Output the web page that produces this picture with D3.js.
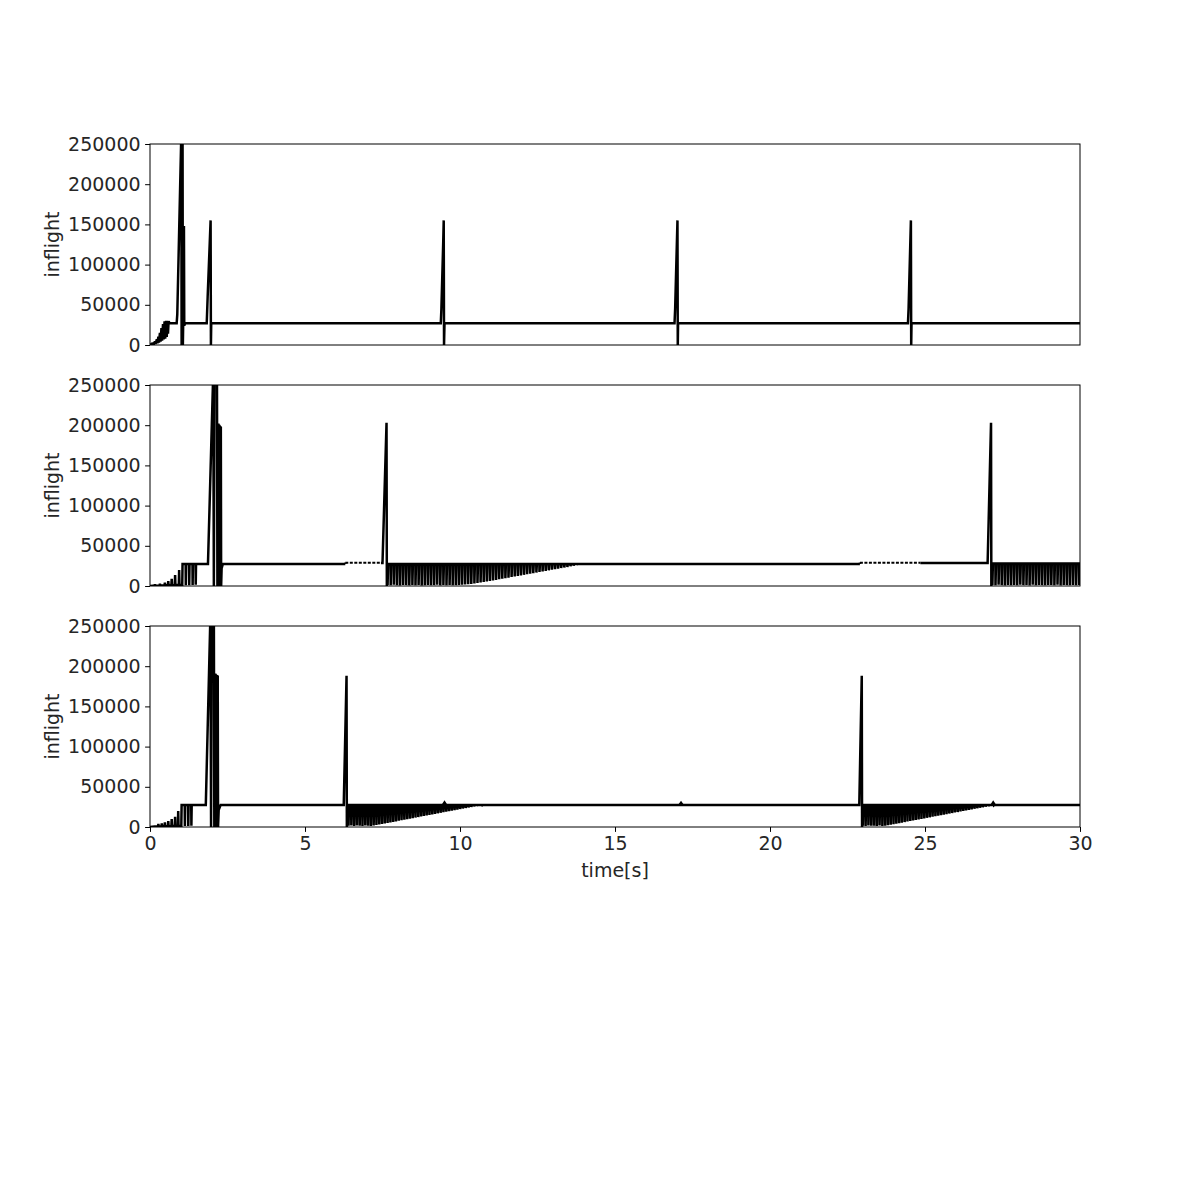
<!DOCTYPE html>
<html><head><meta charset="utf-8">
<script src="https://cdn.jsdelivr.net/npm/d3@7"></script>
<style>body{margin:0;background:#fff}svg{display:block}text{font-family:"DejaVu Sans",sans-serif}</style>
</head><body>
<script>
// ---------------- DATA ----------------
const X_TICKS = [0, 5, 10, 15, 20, 25, 30];
const Y_TICKS = [0, 50000, 100000, 150000, 200000, 250000];
const Y_LABEL = "inflight";
const X_LABEL = "time[s]";

// Panel 1 (time s, inflight)
const p1Main = [[0,0],[0.04,1200],[0.06,200],[0.1,2500],[0.12,600],[0.16,4500],[0.18,1200],[0.22,7000],[0.24,2000],[0.27,10500],[0.29,3000],[0.32,15000],[0.34,4000],[0.37,21000],[0.39,5500],[0.42,26000],[0.44,7000],[0.47,29500],[0.49,8000],[0.52,30000],[0.54,10000],[0.56,30000],[0.58,14000],[0.6,29500],[0.64,27000],[0.86,27000],[0.88,38000],[1.01,262000],[1.02,0],[1.04,0],[1.05,262000],[1.06,0],[1.07,26000],[1.095,148000],[1.105,24000],[1.13,27000],[1.83,27000],[1.86,60000],[1.955,155000],[1.965,0],[1.975,27000],[9.38,27000],[9.40,45000],[9.46,130000],[9.475,155000],[9.485,0],[9.5,27000],[16.92,27000],[16.94,45000],[17.015,155000],[17.025,0],[17.035,27000],[24.45,27000],[24.47,45000],[24.545,155000],[24.555,0],[24.565,27000],[30,27000]];

// Panel 2
const p2Start = [[0,0],[0.1,300],[0.15,400],[0.16,2200],[0.17,400],[0.31,600],[0.32,3000],[0.33,600],[0.47,800],[0.48,4200],[0.49,800],[0.58,900],[0.59,6000],[0.6,900],[0.69,1000],[0.7,9000],[0.71,1000],[0.8,1100],[0.81,13500],[0.82,1100],[0.93,1200],[0.94,20000],[0.95,1200],[1.04,1300],[1.05,27500],[1.15,27500],[1.155,1000],[1.165,27500],[1.26,27500],[1.265,1000],[1.275,27500],[1.37,27500],[1.375,1200],[1.385,27500],[1.47,27500],[1.475,1500],[1.485,27500],[1.87,27500],[2.04,265000],[2.06,0],[2.08,265000],[2.16,265000],[2.175,0],[2.185,202000],[2.195,0],[2.205,202000],[2.215,0],[2.225,201000],[2.235,0],[2.245,200000],[2.255,0],[2.265,199000],[2.275,0],[2.285,198000],[2.295,0],[2.31,22000],[2.35,27500],[6.3,27500]];
const p2DotA = [[6.3,29000],[7.45,29000]];
const p2Mid = [[7.45,28500],[7.5,28500],[7.63,203000],[7.64,0]];
const p2TeethA_t = [7.66,7.76,7.86,7.96,8.06,8.16,8.26,8.36,8.46,8.56,8.66,8.76,8.86,8.96,9.06,9.16,9.26,9.36,9.46,9.56,9.66,9.76,9.86,9.96,10.06,10.16,10.26,10.36,10.46,10.56,10.66,10.76,10.86,10.96,11.06,11.16,11.26,11.36,11.46,11.56,11.66,11.76,11.86,11.96,12.06,12.16,12.26,12.36,12.46,12.56,12.66,12.76,12.86,12.96,13.06,13.16,13.26,13.36,13.46,13.56,13.66,13.76];
const p2TeethA_min = [1200,900,1500,1000,600,1300,1100,800,1400,900,1200,700,1000,1300,900,1100,1500,800,1200,1000,1400,900,1100,1300,1600,1800,2100,2600,3200,3800,4400,5000,5700,6300,7000,7600,8300,9000,9700,10400,11100,11800,12500,13200,13900,14600,15300,16000,16700,17400,18100,18800,19500,20200,20900,21600,22300,23000,23700,24500,25400,26400];
const p2Flat = [[13.8,27500],[22.9,27500]];
const p2DotB = [[22.9,29000],[24.85,29000]];
const p2End = [[24.85,28500],[27.02,28500],[27.13,203000],[27.14,0]];
const p2TeethB_t = [27.17,27.27,27.37,27.47,27.57,27.67,27.77,27.87,27.97,28.07,28.17,28.27,28.37,28.47,28.57,28.67,28.77,28.87,28.97,29.07,29.17,29.27,29.37,29.47,29.57,29.67,29.77,29.87,29.97];
const p2TeethB_min = [1200,900,1500,1100,800,1400,1000,1300,900,1600,1100,1200,800,1500,1000,1300,1100,900,1400,1200,1000,1500,800,1300,1100,1000,1400,900,1200];

// Panel 3
const p3Start = [[0,0],[0.15,500],[0.26,700],[0.27,3700],[0.28,700],[0.37,800],[0.38,4600],[0.39,800],[0.47,900],[0.48,5800],[0.49,900],[0.58,1000],[0.59,7500],[0.6,1000],[0.69,1100],[0.7,10000],[0.71,1100],[0.8,1200],[0.81,12800],[0.82,1200],[0.9,1300],[0.91,19900],[0.92,1300],[1.01,1400],[1.02,27500],[1.12,27500],[1.125,1200],[1.135,27500],[1.23,27500],[1.235,1300],[1.245,27500],[1.33,27500],[1.335,1500],[1.345,27500],[1.8,27500],[1.95,265000],[1.97,0],[1.99,265000],[2.06,265000],[2.075,0],[2.085,190000],[2.095,0],[2.105,191000],[2.115,0],[2.125,190000],[2.135,0],[2.145,189000],[2.155,0],[2.165,189000],[2.175,0],[2.185,188000],[2.195,0],[2.215,21000],[2.28,27500],[6.25,27500],[6.34,188000],[6.35,0]];
const p3TeethA_t = [6.40,6.49,6.58,6.67,6.76,6.85,6.94,7.03,7.12,7.21,7.30,7.39,7.48,7.57,7.66,7.75,7.84,7.93,8.02,8.11,8.20,8.29,8.38,8.47,8.56,8.65,8.74,8.83,8.92,9.01,9.10,9.19,9.28,9.37,9.46,9.55,9.64,9.73,9.82,9.91,10.00,10.09,10.18,10.27,10.36,10.45,10.54,10.63,10.72];
const p3TeethA_min = [1500,1800,1200,2000,1600,1400,1900,1700,1300,1800,2400,3000,3700,4300,5000,5700,6300,7000,7700,8300,9000,9700,10300,11000,11700,12300,13000,13700,14300,15000,15600,16300,17000,17600,18300,19000,19600,20300,21000,21600,22300,23000,23600,24300,25000,25600,26200,26700,27100];
const p3Mid = [[10.8,27500],[22.88,27500],[22.96,188000],[22.97,0]];
const p3TeethB_t = [22.99,23.08,23.17,23.26,23.35,23.44,23.53,23.62,23.71,23.80,23.89,23.98,24.07,24.16,24.25,24.34,24.43,24.52,24.61,24.70,24.79,24.88,24.97,25.06,25.15,25.24,25.33,25.42,25.51,25.60,25.69,25.78,25.87,25.96,26.05,26.14,26.23,26.32,26.41,26.50,26.59,26.68,26.77,26.86,26.95,27.04,27.13,27.22];
const p3TeethB_min = [1600,1300,1900,1500,1700,1200,1800,1400,1600,2200,2800,3500,4100,4800,5400,6100,6800,7400,8100,8700,9400,10100,10700,11400,12000,12700,13400,14000,14700,15300,16000,16700,17300,18000,18600,19300,20000,20600,21300,21900,22600,23300,23900,24600,25200,25900,26500,27000];
const p3End = [[27.3,27500],[30,27500]];
const p3Bumps = [[9.5,30500],[17.13,30000],[27.2,30500]];

const LEVEL = 27500;

// ---------------- CHART ----------------
const W = 1200, H = 1200;
const left = 150, plotW = 930, plotH = 201;
const tops = [144, 385, 626];
const FS = 19;
const TICK = 4.9;
const svg = d3.select("body").append("svg").attr("width", W).attr("height", H);

const x = d3.scaleLinear().domain([0, 30]).range([left, left + plotW]);

function teeth(ts, mins, level) {
  const out = [];
  ts.forEach((t, i) => { out.push([t, level], [t + 0.004, mins[i]], [t + 0.02, level]); });
  return out;
}

const panels = [
  { solid: [p1Main], dotted: [], bumps: [] },
  { solid: [p2Start,
            [p2Start[p2Start.length-1], [6.3,29000]],
            p2Mid.concat(teeth(p2TeethA_t, p2TeethA_min, LEVEL), p2Flat),
            [[22.9,27500],[22.9,29000]],
            p2End.concat(teeth(p2TeethB_t, p2TeethB_min, 28000), [[30,28000]])],
    dotted: [p2DotA, p2DotB], bumps: [] },
  { solid: [p3Start.concat(teeth(p3TeethA_t, p3TeethA_min, LEVEL), p3Mid, teeth(p3TeethB_t, p3TeethB_min, LEVEL), p3End)],
    dotted: [], bumps: p3Bumps }
];

panels.forEach((p, k) => {
  const top = tops[k];
  const y = d3.scaleLinear().domain([0, 250000]).range([top + plotH, top]);
  const g = svg.append("g");
  const cid = "clip" + k;
  svg.append("clipPath").attr("id", cid).append("rect")
    .attr("x", left).attr("y", top).attr("width", plotW).attr("height", plotH);
  const line = d3.line().x(d => x(d[0])).y(d => y(d[1]));
  const dg = g.append("g").attr("clip-path", `url(#${cid})`);
  p.solid.forEach(s => dg.append("path").attr("d", line(s)).attr("fill", "none")
    .attr("stroke", "#000").attr("stroke-width", 2.5).attr("stroke-linejoin", "miter").attr("stroke-miterlimit", 2));
  p.dotted.forEach(s => dg.append("path").attr("d", line(s)).attr("fill", "none")
    .attr("stroke", "#000").attr("stroke-width", 2).attr("stroke-dasharray", "3,1.5"));
  p.bumps.forEach(b => dg.append("path").attr("d", line([[b[0]-0.05, LEVEL],[b[0], b[1]],[b[0]+0.05, LEVEL]]))
    .attr("fill", "none").attr("stroke", "#000").attr("stroke-width", 2.5));

  // frame
  g.append("rect").attr("x", left).attr("y", top).attr("width", plotW).attr("height", plotH)
    .attr("fill", "none").attr("stroke", "#000").attr("stroke-width", 1);

  const ya = g.append("g").attr("transform", `translate(${left},0)`)
    .call(d3.axisLeft(y).tickValues(Y_TICKS).tickSize(TICK).tickPadding(4.5).tickFormat(d3.format("d")));
  ya.select(".domain").remove();
  ya.selectAll("text").attr("font-size", FS).attr("fill", "#262626").attr("font-family", "DejaVu Sans");
  ya.selectAll("line").attr("stroke", "#000");

  g.append("text").attr("transform", `translate(52,${top + plotH / 2}) rotate(-90)`)
    .attr("text-anchor", "middle").attr("dominant-baseline", "central")
    .attr("font-size", FS).attr("fill", "#262626").text(Y_LABEL);

  if (k === 2) {
    const xa = g.append("g").attr("transform", `translate(0,${top + plotH})`)
      .call(d3.axisBottom(x).tickValues(X_TICKS).tickSize(TICK).tickPadding(4.9).tickFormat(d3.format("d")));
    xa.select(".domain").remove();
    xa.selectAll("text").attr("font-size", FS).attr("fill", "#262626").attr("font-family", "DejaVu Sans");
    xa.selectAll("line").attr("stroke", "#000");
    g.append("text").attr("x", left + plotW / 2).attr("y", 870)
      .attr("text-anchor", "middle").attr("dominant-baseline", "central")
      .attr("font-size", FS).attr("fill", "#262626").text(X_LABEL);
  }
});
</script>
</body></html>
